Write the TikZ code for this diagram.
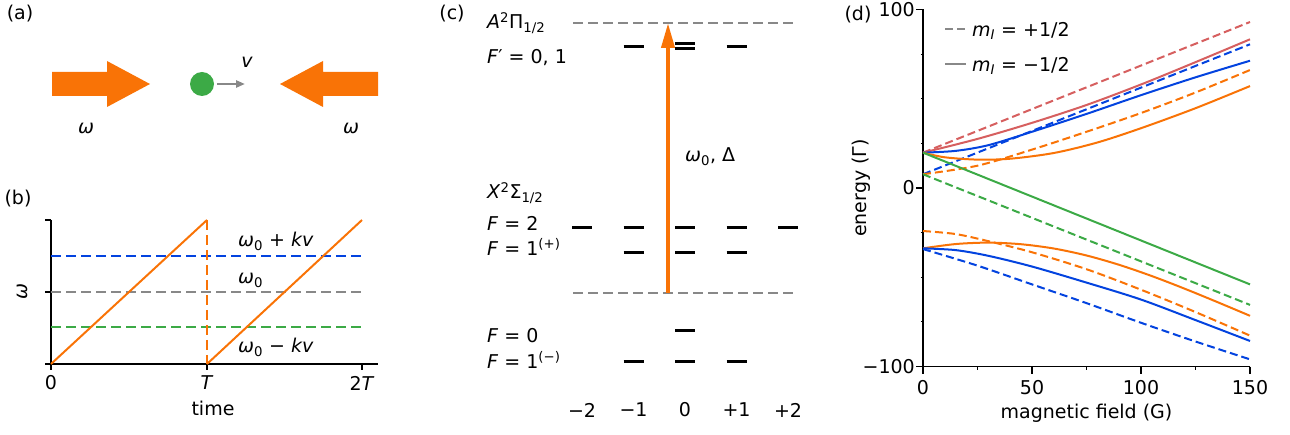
\documentclass[tikz,border=0pt]{standalone}
\usepackage{fontspec}
\setmainfont{DejaVu Sans}
\usetikzlibrary{arrows.meta, positioning}

\definecolor{laser}{RGB}{249,115,6}
\definecolor{detblue}{RGB}{3,67,223}
\definecolor{atomgreen}{RGB}{60,170,70}
\definecolor{mutedred}{RGB}{214,95,95}
\definecolor{guidegray}{RGB}{136,136,136}

\newcommand{\sym}[1]{\textit{#1}}

\begin{document}
\begin{tikzpicture}[x=1pt, y=-1pt, >=Stealth, font=\fontsize{19}{23}\selectfont,
  every node/.style={inner sep=0pt},
  beam/.style={fill=laser, draw=none},
  level/.style={line width=3pt},
  guide/.style={line width=2pt, dash pattern=on 10pt off 5pt},
  curve/.style={line width=2pt},
  dcurve/.style={line width=2pt, dash pattern=on 8pt off 4pt},
  axis/.style={line width=1.2pt}]
  \useasboundingbox (0,0) rectangle (1290,435);

  % (a) counter-propagating beams
  \node (lbla) at (20,14) {(a)};
  \fill[beam] (52,72) -- (107,72) -- (107,61) -- (150,84) -- (107,107) -- (107,96) -- (52,96) -- cycle;
  \fill[beam] (378,72) -- (323,72) -- (323,61) -- (280,84) -- (323,107) -- (323,96) -- (378,96) -- cycle;
  \node[circle, fill=atomgreen, minimum size=24pt] (atom) at (202,84) {};
  \coordinate (vtip) at (245,84);
  \draw[line width=2.5pt, guidegray, shorten <=3pt, -{Triangle[length=9pt,width=7pt]}] (atom) -- (vtip);
  \node (vel) at (247,62) {\sym{v}};
  \node (wleft) at (86,128) {\sym{ω}};
  \node (wright) at (351,128) {\sym{ω}};

  % (b) frequency sweep
  \node (lblb) at (18,199) {(b)};
  \draw[axis] (51,220) -- (51,364) -- (378,364);
  \foreach \y in {220,292,364}
    \draw[axis] (45,\y) -- (51,\y);
  \foreach \x/\t in {51/0, 207/\sym{T}, 362/2\sym{T}} {
    \draw[axis] (\x,364) -- (\x,370);
    \node (tk\x) at (\x,383) {\t};
  }
  \node (timelbl) at (213,408) {time};
  \node[rotate=90] (wlbl) at (22,292) {\sym{ω}};
  \draw[guide, detblue] (51,256) -- (362,256);
  \draw[guide, guidegray] (51,292) -- (362,292);
  \draw[guide, atomgreen] (51,327) -- (362,327);
  \draw[curve, laser] (51,364) -- (207,220);
  \draw[guide, laser] (207,220) -- (207,364);
  \draw[curve, laser] (207,364) -- (362,220);
  \node[anchor=west] (wplus) at (238,241) {\sym{ω}\textsubscript{0} + \sym{kv}};
  \node[anchor=west] (wzero) at (238,280) {\sym{ω}\textsubscript{0}};
  \node[anchor=west] (wminus) at (238,347) {\sym{ω}\textsubscript{0} − \sym{kv}};

  % (c) level scheme
  \node (lblc) at (452,14) {(c)};
  \node[anchor=west] (astate) at (487,23) {\sym{A}\textsuperscript{2}Π\textsubscript{1/2}};
  \node[anchor=west] (fprime) at (487,58) {\sym{F}′ = 0, 1};
  \node[anchor=west] (xstate) at (487,193) {\sym{X}\textsuperscript{2}Σ\textsubscript{1/2}};
  \node[anchor=west] (ftwo) at (487,223) {\sym{F} = 2};
  \node[anchor=west] (fplus) at (487,247) {\sym{F} = 1\textsuperscript{(+)}};
  \node[anchor=west] (fzero) at (487,336) {\sym{F} = 0};
  \node[anchor=west] (fminus) at (487,360) {\sym{F} = 1\textsuperscript{(−)}};
  \draw[guide, guidegray] (573,23) -- (797,23);
  \draw[guide, guidegray] (573,293) -- (797,293);
  \foreach \m in {-1,1}
    \draw[level] ({675+51.5*\m},47) -- ++(20,0);
  \draw[level, line width=2.5pt] (675,43.5) -- ++(20,0);
  \draw[level, line width=2.5pt] (675,48.5) -- ++(20,0);
  \foreach \m in {-2,...,2}
    \draw[level] ({675+51.5*\m},228) -- ++(20,0);
  \foreach \m in {-1,0,1} {
    \draw[level] ({675+51.5*\m},253) -- ++(20,0);
    \draw[level] ({675+51.5*\m},362) -- ++(20,0);
  }
  \draw[level] (675,331) -- ++(20,0);
  \foreach \m/\t in {-2/−2, -1/−1, 0/0, 1/+1, 2/+2}
    \node (mf\m) at ({685+51.5*\m},410) {\t};
  \coordinate (ground) at (668,293);
  \coordinate (excited) at (668,23);
  \draw[line width=4pt, laser, -{Triangle[length=25pt,width=13pt]}] (ground) -- (excited);
  \node[anchor=west] (detlbl) at (685,157) {\sym{ω}\textsubscript{0}, Δ};

  % (d) Zeeman map
  \node (lbld) at (858,15) {(d)};
  \begin{scope}[shift={(923,188)}, x=2.18pt, y=1.785pt]
    \draw[axis] (0,100) -- (0,-100) -- (150,-100);
    \foreach \e in {-75,-50,-25,25,50,75}
      \draw[axis] (-2.2pt,\e) -- (0,\e);
    \foreach \e/\t in {100/100, 0/0, -100/−100} {
      \draw[axis] (-7pt,\e) -- (0,\e);
      \node[anchor=east] (ey\e) at (-8pt,\e) {\t};
    }
    \foreach \b in {25,75,125}
      \draw[axis] (\b,-100) -- ++(0,-2.2);
    \foreach \b in {0,50,100,150} {
      \draw[axis] (\b,-100) -- ++(0,-4);
      \node (bx\b) at (\b,-112) {\b};
    }
    \node (blbl) at (75,-126) {magnetic field (G)};
    \node[rotate=90] (elbl) at (-28.5,0) {energy (Γ)};

    \draw[dcurve, mutedred] (0,19.8) -- (150,93);
    \draw[curve, mutedred] plot[smooth] coordinates {(0,19.8) (25,27.5) (50,36.5) (75,46.5) (100,58) (125,70.5) (150,83.3)};
    \draw[dcurve, detblue] (0,7.7) -- (150,80.5);
    \draw[curve, detblue] plot[smooth] coordinates {(0,19.8) (15,20.8) (30,24) (50,31.5) (75,41.5) (100,52) (125,62) (150,71.3)};
    \draw[dcurve, laser] plot[smooth] coordinates {(0,7.7) (25,12.5) (50,21.5) (75,31.5) (100,42) (125,53.5) (150,66.1)};
    \draw[curve, laser] plot[smooth] coordinates {(0,19.8) (10,17.2) (25,15.9) (40,16.4) (60,19.6) (80,25.5) (100,33.5) (125,44.7) (150,57.1)};
    \draw[curve, atomgreen] (0,19.8) -- (150,-54);
    \draw[dcurve, atomgreen] (0,7.7) -- (150,-65.5);
    \draw[dcurve, laser] plot[smooth] coordinates {(0,-24.1) (15,-25.8) (30,-29.8) (50,-36) (75,-45.5) (100,-57) (125,-69.5) (150,-82.7)};
    \draw[curve, laser] plot[smooth] coordinates {(0,-33.8) (15,-31.4) (30,-30.6) (45,-31.5) (60,-33.9) (75,-37.8) (90,-43.05) (105,-49.35) (120,-56.4) (135,-63.9) (150,-71.6)};
    \draw[curve, detblue] plot[smooth] coordinates {(0,-33.8) (15,-34.8) (30,-38) (50,-44) (75,-53) (100,-62.5) (125,-74) (150,-85.7)};
    \draw[dcurve, detblue] plot[smooth] coordinates {(0,-34.2) (25,-43.5) (50,-54) (75,-64.5) (100,-75.5) (125,-86) (150,-96)};
  \end{scope}
  \draw[dcurve, guidegray] (945,29) -- (966,29);
  \node[anchor=west] (legplus) at (972,31) {\sym{m}\textsubscript{\sym{I}} = +1/2};
  \draw[curve, guidegray] (945,64) -- (966,64);
  \node[anchor=west] (legminus) at (972,66) {\sym{m}\textsubscript{\sym{I}} = −1/2};
\end{tikzpicture}
\end{document}
